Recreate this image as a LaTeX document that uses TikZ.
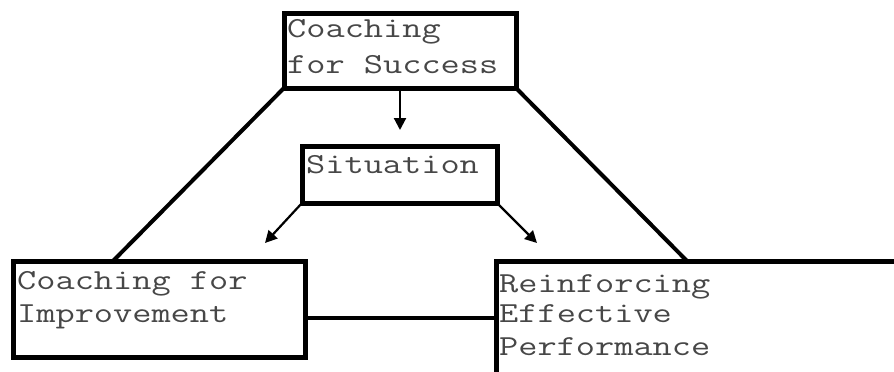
\documentclass[tikz,border=0pt]{standalone}
\usepackage{fontspec}
\setmonofont{Latin Modern Mono}[FakeStretch=1.285]
\usetikzlibrary{arrows.meta}
\begin{document}
\begin{tikzpicture}[x=1pt,y=-1pt,
 box/.style={draw, line width=5pt, inner sep=0pt, outer sep=0pt, anchor=north west, minimum width=#1},
 conn/.style={line width=4pt, line cap=round},
 arr/.style={line width=2.2pt, -{Triangle[length=12pt,width=12pt]}},
 txt/.style={anchor=base west, inner sep=0pt, text=black!72, font=\ttfamily\fontsize{29}{33}\selectfont}]
\useasboundingbox (0,0) rectangle (894,372);
\clip (0,0) rectangle (894,372);
\fill[white] (0,0) rectangle (894,372);

% boxes
\node[box=232pt, minimum height=75pt] (top) at (284,13) {};
\node[box=195pt, minimum height=57pt] (sit) at (302,146) {};
\node[box=292pt, minimum height=96pt] (left) at (13,261) {};
\node[box=424pt, minimum height=139pt] (right) at (496,261) {};

% texts
\node[txt] (t1) at (287,37) {Coaching};
\node[txt] (t2) at (287,73) {for Success};
\node[txt] (s1) at (306,173) {Situation};
\node[txt] (l1) at (17,289) {Coaching for};
\node[txt] (l2) at (17,322) {Improvement};
\node[txt] (r1) at (499,292) {Reinforcing};
\node[txt] (r2) at (499,322) {Effective};
\node[txt] (r3) at (499,355) {Performance};

% connector ends
\coordinate (lj) at (113,261);
\coordinate (rj) at (687,261);
\coordinate (a0) at (400,130);
\coordinate (a1) at (265,243);
\coordinate (a2) at (537,243);

% connectors
\draw[conn] (top.south west) -- (lj);
\draw[conn] (top.south east) -- (rj);
\draw[conn] (left.east) ++(0,9) coordinate (hl) -- (hl -| right.west);
\draw[arr] (top.south) -- (a0);
\draw[arr] (sit.south west) -- (a1);
\draw[arr] (sit.south east) -- (a2);
\end{tikzpicture}
\end{document}
